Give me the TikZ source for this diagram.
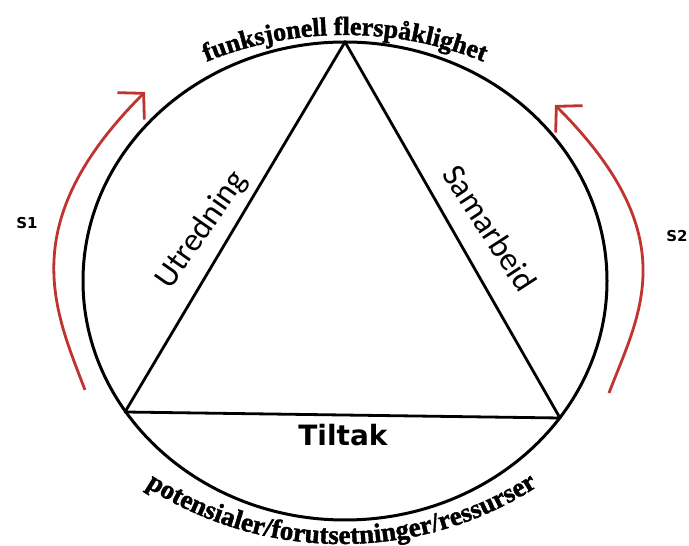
\documentclass[tikz,border=0pt]{standalone}
\usepackage{fontspec}
\newfontfamily\carl{Carlito}
\newfontfamily\dvs{DejaVu Sans}
\newfontfamily\lsf{Liberation Serif}[BoldFeatures={FakeBold=1.6}]
\usetikzlibrary{arrows.meta,decorations.text}
\definecolor{arrowred}{RGB}{192,52,48}
\begin{document}
\begin{tikzpicture}[x=1pt,y=1pt,
  ring/.style={line width=3pt},
  side/.style={line width=2.8pt, line join=round},
  sweep/.style={arrowred, line width=2.8pt, -{Straight Barb[length=18pt,width=38pt]}},
  sidelabel/.style={font=\carl\fontsize{33}{33}\selectfont, inner sep=0pt},
  boldlabel/.style={font=\dvs\bfseries\fontsize{28}{28}\selectfont, inner sep=0pt},
  slabel/.style={font=\dvs\bfseries\fontsize{15}{15}\selectfont, inner sep=0pt}
]
\useasboundingbox (0,0) rectangle (689,546);
\fill[white] (0,0) rectangle (689,546);
\coordinate (O) at (345,265);
\coordinate (OB) at (341.5,364);
\coordinate (A) at (345,504);
\coordinate (L) at (125,134);
\coordinate (R) at (560,128);
\draw[ring] (O) ellipse [x radius=262pt, y radius=239pt];
\draw[side] (A) -- (L) -- (R) -- cycle;
\node[sidelabel, rotate=55] (utr) at (202,316) {Utredning};
\node[sidelabel, rotate=-57] (sam) at (490,318) {Samarbeid};
\node[boldlabel] (til) at (343,111) {Tiltak};
\node[slabel] (s1) at (27,323) {S1};
\node[slabel] (s2) at (677,310) {S2};
\coordinate (s1a) at (85,156);
\coordinate (s1b) at (145,454);
\coordinate (s2a) at (609,153);
\coordinate (s2b) at (555,441);
\draw[sweep] (s1a) .. controls (55,235) and (13,322) .. (s1b);
\draw[sweep] (s2a) .. controls (639,232) and (687,309) .. (s2b);
\path[decorate, decoration={text along path, text align=center,
  text={|\lsf\bfseries\fontsize{26}{26}\selectfont|funksjonell flerspåklighet}}]
  ([shift={(O)}]160:305pt and 246pt) arc[start angle=160, end angle=20, x radius=305pt, y radius=246pt];
\path[decorate, decoration={text along path, text align=center,
  text={|\lsf\bfseries\fontsize{27}{27}\selectfont|potensialer/forutsetninger/ressurser}}]
  ([shift={(OB)}]225:362pt) arc[start angle=225, end angle=315, radius=362pt];
\end{tikzpicture}
\end{document}
